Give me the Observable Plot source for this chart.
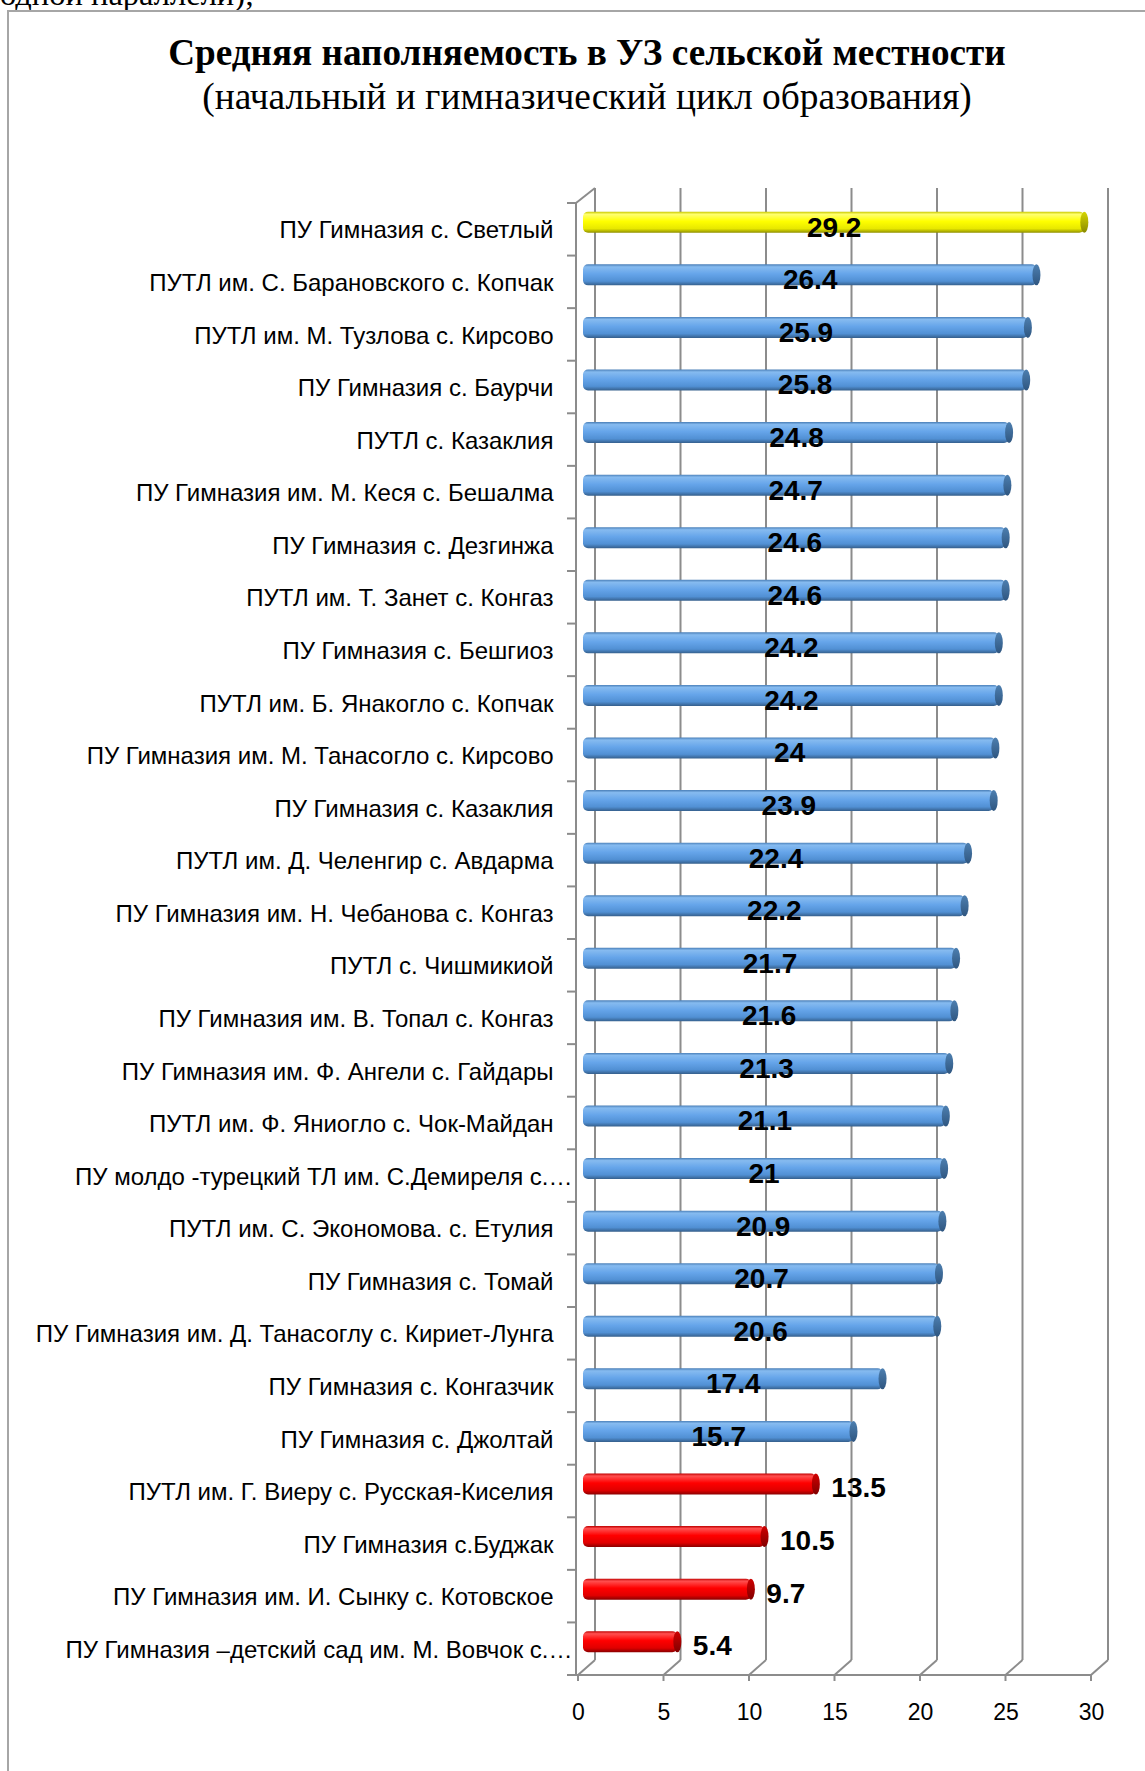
<!DOCTYPE html>
<html>
<head>
<meta charset="utf-8">
<script src="https://cdn.jsdelivr.net/npm/d3@7"></script>
<script src="https://cdn.jsdelivr.net/npm/@observablehq/plot@0.6"></script>
<style>
html, body { margin: 0; padding: 0; background: #fff; }
#page { position: relative; width: 1145px; height: 1771px; overflow: hidden; background: #fff; }
#pre { position: absolute; left: 0; top: -22px; font: 32.5px/32.5px "Liberation Serif", serif; color: #000; white-space: nowrap; }
#frame { position: absolute; left: 7px; top: 10px; width: 1300px; height: 1900px; border: 2px solid #a6a6a6; box-sizing: border-box; }
#title { position: absolute; left: 0; width: 1174px; top: 33px; text-align: center; font: bold 37.2px/40px "Liberation Serif", serif; color: #000; white-space: nowrap; }
#subtitle { position: absolute; left: 0; width: 1174px; top: 77px; text-align: center; font: 37.4px/40px "Liberation Serif", serif; color: #000; white-space: nowrap; }
#chart { position: absolute; left: 0; top: 150px; width: 1145px; }
#chart svg { display: block; }
</style>
</head>
<body>
<div id="page">
  <div id="pre">одной параллели);</div>
  <div id="frame"></div>
  <div id="title">Средняя наполняемость в УЗ сельской местности</div>
  <div id="subtitle">(начальный и гимназический цикл образования)</div>
  <div id="chart"></div>
</div>
<script>
const schools = [
  "ПУ Гимназия с. Светлый",
  "ПУТЛ им. С. Барановского с. Копчак",
  "ПУТЛ им. М. Тузлова с. Кирсово",
  "ПУ Гимназия с. Баурчи",
  "ПУТЛ с. Казаклия",
  "ПУ Гимназия им. М. Кеся с. Бешалма",
  "ПУ Гимназия с. Дезгинжа",
  "ПУТЛ им. Т. Занет с. Конгаз",
  "ПУ Гимназия с. Бешгиоз",
  "ПУТЛ им. Б. Янакогло с. Копчак",
  "ПУ Гимназия им. М. Танасогло с. Кирсово",
  "ПУ Гимназия с. Казаклия",
  "ПУТЛ им. Д. Челенгир с. Авдарма",
  "ПУ Гимназия им. Н. Чебанова с. Конгаз",
  "ПУТЛ с. Чишмикиой",
  "ПУ Гимназия им. В. Топал с. Конгаз",
  "ПУ Гимназия им. Ф. Ангели с. Гайдары",
  "ПУТЛ им. Ф. Яниогло с. Чок-Майдан",
  "ПУ молдо -турецкий ТЛ им. С.Демиреля с.…",
  "ПУТЛ им. С. Экономова. с. Етулия",
  "ПУ Гимназия с. Томай",
  "ПУ Гимназия им. Д. Танасоглу с. Кириет-Лунга",
  "ПУ Гимназия с. Конгазчик",
  "ПУ Гимназия с. Джолтай",
  "ПУТЛ им. Г. Виеру с. Русская-Киселия",
  "ПУ Гимназия с.Буджак",
  "ПУ Гимназия им. И. Сынку с. Котовское",
  "ПУ Гимназия –детский сад им. М. Вовчок с.…"
];
const values = [29.2, 26.4, 25.9, 25.8, 24.8, 24.7, 24.6, 24.6, 24.2, 24.2, 24, 23.9, 22.4, 22.2,
  21.7, 21.6, 21.3, 21.1, 21, 20.9, 20.7, 20.6, 17.4, 15.7, 13.5, 10.5, 9.7, 5.4];
const xTicks = [0, 5, 10, 15, 20, 25, 30];

const maxValue = d3.max(values);
const data = schools.map((school, i) => ({
  school,
  value: values[i],
  group: values[i] === maxValue ? "max" : values[i] < 15 ? "low" : "mid"
}));

// 3D offsets (depth of the chart box)
const DX = 17, DY = -15;
const BAR_DX = 5, BAR_DY = -7;

function defs() {
  const d = d3.create("svg:defs");
  const grads = {
    mid: [["0%", "#4a7fb8"], ["12%", "#86bbf0"], ["45%", "#66a5ea"], ["80%", "#5190d4"], ["100%", "#355f8c"]],
    max: [["0%", "#c9c900"], ["12%", "#ffff70"], ["45%", "#ffff00"], ["80%", "#e8e800"], ["100%", "#8f8f00"]],
    low: [["0%", "#c00000"], ["12%", "#ff5050"], ["45%", "#ff0000"], ["80%", "#e00000"], ["100%", "#8a0000"]]
  };
  const caps = { mid: ["#4d7fb0", "#2f5680"], max: ["#d6d600", "#8a8a00"], low: ["#d00000", "#800000"] };
  for (const [k, stops] of Object.entries(grads)) {
    const g = d.append("linearGradient").attr("id", "g-" + k).attr("x1", 0).attr("x2", 0).attr("y1", 0).attr("y2", 1);
    for (const [o, c] of stops) g.append("stop").attr("offset", o).attr("stop-color", c);
    const c = d.append("linearGradient").attr("id", "c-" + k).attr("x1", 0).attr("x2", 0).attr("y1", 0).attr("y2", 1);
    c.append("stop").attr("offset", "0%").attr("stop-color", caps[k][0]);
    c.append("stop").attr("offset", "100%").attr("stop-color", caps[k][1]);
  }
  return d.node();
}

function box(index, scales, values, dimensions) {
  const {marginTop, marginBottom, height} = dimensions;
  const top = marginTop, bottom = height - marginBottom;
  const x = scales.x, y = scales.y;
  const g = d3.create("svg:g").attr("fill", "none").attr("stroke", "#8c8c8c").attr("stroke-width", 2);
  const x0 = x(0) - 2;
  for (const t of xTicks) {
    const xt = x(t);
    g.append("line").attr("x1", xt + DX).attr("x2", xt + DX).attr("y1", top + DY).attr("y2", bottom + DY);
    g.append("line").attr("x1", xt).attr("x2", xt + DX).attr("y1", bottom).attr("y2", bottom + DY);
    g.append("line").attr("x1", xt).attr("x2", xt).attr("y1", bottom).attr("y2", bottom + 6);
  }
  g.append("line").attr("x1", x0).attr("x2", x(30)).attr("y1", bottom).attr("y2", bottom);
  g.append("line").attr("x1", x0).attr("x2", x0).attr("y1", top).attr("y2", bottom);
  g.append("line").attr("x1", x0).attr("x2", x(0) + DX).attr("y1", top).attr("y2", top + DY);
  for (const s of schools) {
    g.append("line").attr("x1", x0 - 9).attr("x2", x0).attr("y1", y(s)).attr("y2", y(s));
  }
  g.append("line").attr("x1", x0 - 9).attr("x2", x0).attr("y1", bottom).attr("y2", bottom);
  return g.node();
}

const labelFont = {fontFamily: "Liberation Sans, Arial, sans-serif", fontSize: 24};
const valueFont = {fontFamily: "Liberation Sans, Arial, sans-serif", fontSize: 28, fontWeight: "bold"};
const inset = (1472 / 28 - 21) / 2;

const bars = ["mid", "max", "low"].flatMap(k => [
  Plot.barX(data.filter(d => d.group === k), {
    x: "value", y: "school", fill: `url(#g-${k})`,
    insetTop: inset, insetBottom: inset, insetRight: -2, dx: BAR_DX, dy: BAR_DY, rx: 5
  }),
  Plot.barX(data.filter(d => d.group === k), {
    x1: "value", x2: "value", y: "school", fill: `url(#c-${k})`,
    insetTop: inset, insetBottom: inset, insetLeft: -2, insetRight: -6,
    dx: BAR_DX, dy: BAR_DY, rx: 4, ry: 10.5
  })
]);

const chart = Plot.plot({
  width: 1145,
  height: 1600,
  marginTop: 53,
  marginBottom: 75,
  marginLeft: 578,
  marginRight: 54,
  style: {background: "transparent", overflow: "visible", maxWidth: "none"},
  x: {domain: [0, 30], axis: null, round: false},
  y: {domain: schools, padding: 0, round: false, axis: null},
  marks: [
    defs,
    box,
    ...bars,
    Plot.text(data.filter(d => !d.school.endsWith("…")), {
      y: "school", text: "school", frameAnchor: "left", textAnchor: "end", dx: -25, dy: 1, fill: "#000", ...labelFont
    }),
    Plot.text(data.filter(d => d.school.endsWith("…")), {
      y: "school", text: "school", frameAnchor: "left", textAnchor: "end", dx: -6, dy: 1, fill: "#000", ...labelFont
    }),
    Plot.text(data.filter(d => d.group !== "low"), {
      x: d => d.value / 2, y: "school", text: d => String(d.value), dx: BAR_DX + 1, dy: -2, fill: "#000", ...valueFont
    }),
    Plot.text(data.filter(d => d.group === "low"), {
      x: "value", y: "school", text: d => String(d.value), textAnchor: "start", dx: 22, dy: -3, fill: "#000", ...valueFont
    }),
    Plot.text(xTicks, {
      x: d => d, text: d => String(d), frameAnchor: "bottom", lineAnchor: "middle", dy: 37, fill: "#000",
      fontFamily: "Liberation Sans, Arial, sans-serif", fontSize: 23
    })
  ]
});
document.getElementById("chart").appendChild(chart);
</script>
</body>
</html>
